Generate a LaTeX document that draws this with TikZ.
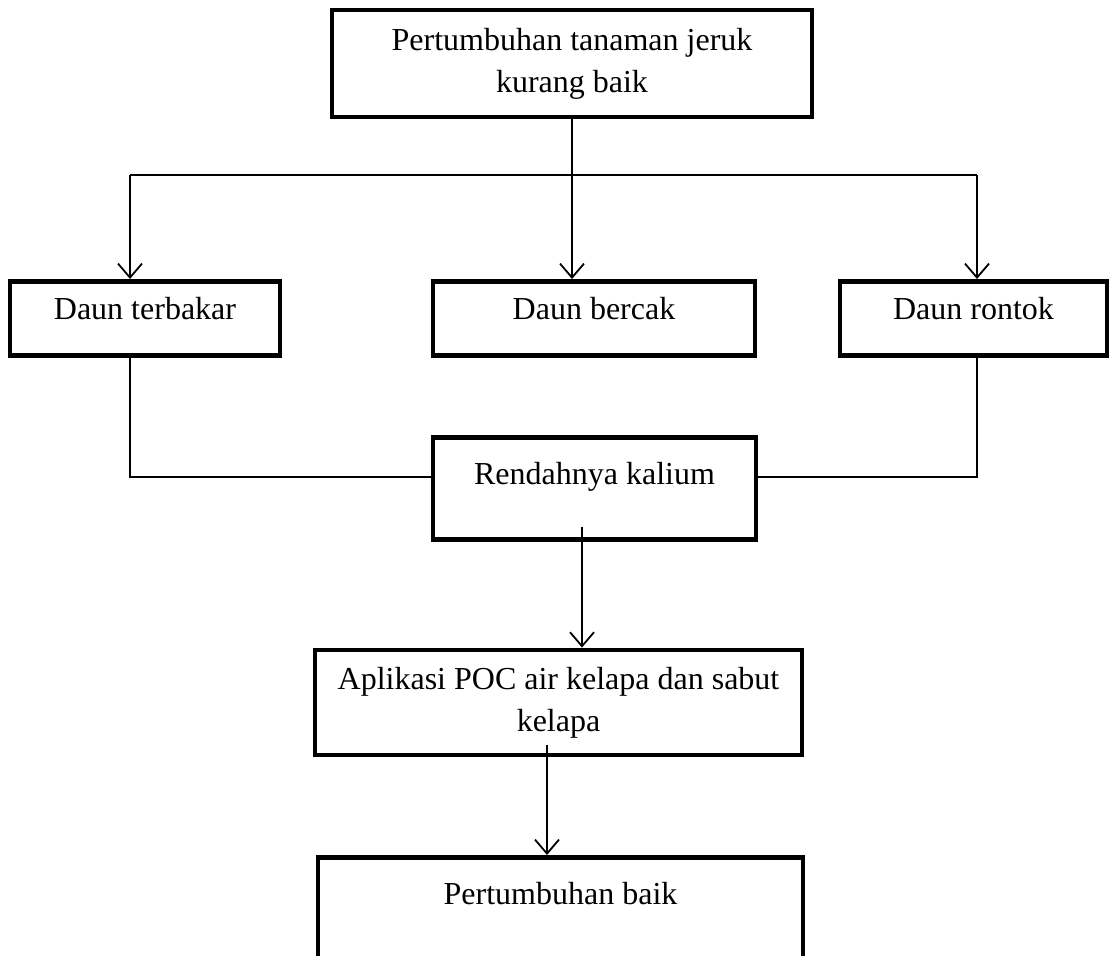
\documentclass[tikz,border=0pt]{standalone}
\usepackage{fontspec}
\setmainfont{Liberation Serif}
\usepackage{tikz}
\usetikzlibrary{arrows.meta}
\usetikzlibrary{positioning}

\tikzset{
  kotak/.style={draw, line width=2.4pt, inner sep=0pt, align=center,
    font=\fontsize{16}{21}\selectfont},
  garis/.style={line width=0.6pt},
  panah/.style={line width=0.9pt, -{Straight Barb[length=7pt,width=12pt,line width=0.9pt]}}
}

\begin{document}
\begin{tikzpicture}[x=0.5pt, y=-0.5pt]

  \clip (0,0) rectangle (1109,956);

%%%%%%%%%%%% Masalah
  \node[kotak, minimum width=240pt, minimum height=53.5pt] (atas) at (572,63.5)
    {Pertumbuhan tanaman jeruk\\kurang baik};

%%%%%%%%%%%% Gejala daun
  \node[kotak, anchor=north, minimum width=135pt, text height=19pt, text depth=18pt]
    (terbakar) at (145,279) {Daun terbakar};
  \node[kotak, anchor=north, minimum width=161pt, text height=19pt, text depth=18pt]
    (bercak) at (594,279) {Daun bercak};
  \node[kotak, anchor=north, minimum width=133.5pt, text height=19pt, text depth=18pt]
    (rontok) at (973.5,279) {Daun rontok};

%%%%%%%%%%%% Penyebab dan solusi
  \node[kotak, anchor=north, minimum width=161.5pt, text height=23.5pt, text depth=27.5pt]
    (rendah) at (594.5,435) {Rendahnya kalium};
  \node[kotak, minimum width=243.5pt, minimum height=52.5pt] (aplikasi) at (558.5,702.5)
    {Aplikasi POC air kelapa dan sabut\\kelapa};
  \node[kotak, anchor=north, minimum width=242.5pt, text height=23.5pt, text depth=60pt]
    (akhir) at (560.5,855) {Pertumbuhan baik};

  \coordinate (kiri) at (130,175);
  \coordinate (kanan) at (977,175);
  \coordinate (tengah) at (594,477);
  \coordinate (r1) at (582,527);
  \coordinate (a1) at (547,745);

  % cabang dari masalah
  \draw[panah] (atas.south) -- (atas.south |- bercak.north);
  \draw[garis] (kiri) -- (kanan);
  \draw[panah] (kiri) -- (kiri |- terbakar.north);
  \draw[panah] (kanan) -- (kanan |- rontok.north);

  % gejala ke penyebab
  \draw[garis] (kiri |- terbakar.south) |- (rendah.west |- tengah);
  \draw[garis] (kanan |- rontok.south) |- (rendah.east |- tengah);

  \draw[panah] (r1) -- (r1 |- aplikasi.north);
  \draw[panah] (a1) -- (a1 |- akhir.north);

\end{tikzpicture}
\end{document}
